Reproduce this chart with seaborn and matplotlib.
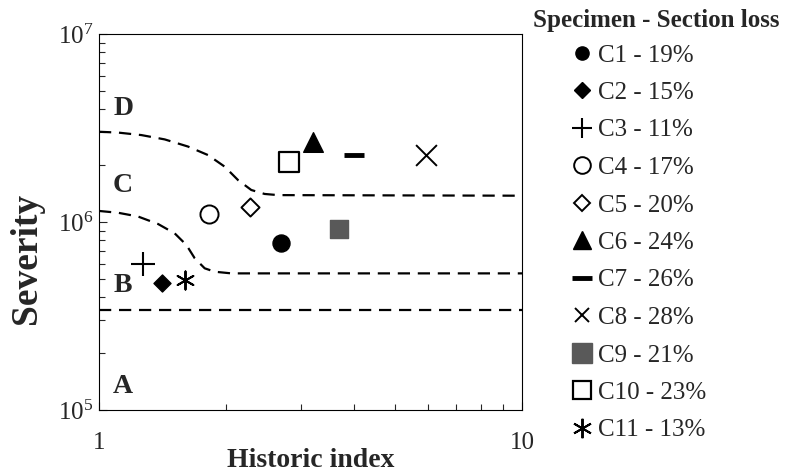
import matplotlib
matplotlib.use("Agg")
import matplotlib.pyplot as plt
from matplotlib.lines import Line2D
from matplotlib.ticker import NullFormatter, LogLocator
import seaborn as sns
import pandas as pd

# specimens
specimens = ["C1", "C2", "C3", "C4", "C5", "C6", "C7", "C8", "C9", "C10", "C11"]
section_loss = [19, 15, 11, 17, 20, 24, 26, 28, 21, 23, 13]
historic_index = [2.70, 1.41, 1.27, 1.82, 2.27, 3.20, 4.01, 5.92, 3.69, 2.81, 1.60]
severity = [7.7e5, 4.75e5, 6.0e5, 1.1e6, 1.2e6, 2.67e6, 2.28e6, 2.27e6, 9.2e5, 2.08e6, 4.9e5]

# zone boundaries (dashed)
upper_x = [1.0, 1.109, 1.259, 1.430, 1.623, 1.810, 1.982, 2.132, 2.291, 2.463, 2.65, 10]
upper_y = [3.02e6, 2.99e6, 2.90e6, 2.75e6, 2.52e6, 2.27e6, 1.97e6, 1.67e6, 1.48e6, 1.41e6, 1.39e6, 1.38e6]
lower_x = [1.0, 1.109, 1.236, 1.379, 1.51, 1.609, 1.684, 1.778, 1.877, 2.055, 10]
lower_y = [1.145e6, 1.12e6, 1.07e6, 9.76e5, 8.7e5, 7.55e5, 6.41e5, 5.67e5, 5.44e5, 5.33e5, 5.33e5]
bottom_x = [1, 10]
bottom_y = [3.4e5, 3.4e5]

zones = ["A", "B", "C", "D"]
zone_x = [1.14, 1.14, 1.14, 1.14]
zone_y = [1.33e5, 4.6e5, 1.56e6, 4.0e6]

sns.set_style("ticks")
plt.rcParams["font.family"] = ["Liberation Serif", "DejaVu Serif"]
plt.rcParams["mathtext.fontset"] = "custom"
plt.rcParams["mathtext.rm"] = "Liberation Serif"

# marker, face, edge, size (s), linewidth, legend markersize
styles = {
    "C1": ("o", "black", "black", 150, 1.0, 9.5),
    "C2": ("D", "black", "black", 75, 1.0, 8.5),
    "C3": ("+", "black", "black", 275, 1.5, 14),
    "C4": ("o", "white", "black", 170, 1.4, 12),
    "C5": ("D", "white", "black", 85, 1.4, 8.5),
    "C6": ("^", "black", "black", 200, 1.0, 13),
    "C7": ("_", "black", "black", 207, 3.5, 14),
    "C8": ("x", "black", "black", 225, 1.4, 10.5),
    "C9": ("s", "#595959", "#595959", 150, 1.0, 14),
    "C10": ("s", "white", "black", 207, 1.6, 13),
    "C11": ((6, 2, 0), "black", "black", 170, 1.4, 14),
}

df = pd.DataFrame({"specimen": specimens, "hi": historic_index, "sev": severity,
                   "loss": section_loss})

fig = plt.figure(figsize=(7.86, 4.75), dpi=100)
ax = fig.add_axes([99 / 786, 1 - 410 / 475, 423 / 786, 376 / 475])

dash = (5.5, 3.5)
for bx, by in [(upper_x, upper_y), (lower_x, lower_y), (bottom_x, bottom_y)]:
    sns.lineplot(x=bx, y=by, ax=ax, color="black", lw=1.6, sort=False,
                 dashes=False, estimator=None)
for ln in ax.lines:
    ln.set_dashes(dash)

handles = []
for _, row in df.iterrows():
    m, fc, ec, s, lw, ms = styles[row["specimen"]]
    unfilled = m in ("+", "x", "_") or isinstance(m, tuple)
    if unfilled:
        sns.scatterplot(x=[row["hi"]], y=[row["sev"]], ax=ax, marker=m, s=s,
                        color=ec, linewidth=lw, zorder=3)
    else:
        sns.scatterplot(x=[row["hi"]], y=[row["sev"]], ax=ax, marker=m, s=s,
                        color=fc, edgecolor=ec, linewidth=lw, zorder=3)
    handles.append(Line2D([], [], linestyle="none", marker=m, markersize=ms,
                          markerfacecolor=fc, markeredgecolor=ec,
                          markeredgewidth=lw,
                          label=f"{row['specimen']} - {row['loss']}%"))

for z, zx, zy in zip(zones, zone_x, zone_y):
    ax.text(zx, zy, z, fontsize=20, fontweight="bold", ha="center", va="center")

ax.set_xscale("log")
ax.set_yscale("log")
ax.set_xlim(1, 10)
ax.set_ylim(1e5, 1e7)
ax.set_xticks([1, 10], labels=["1", "10"])
ax.xaxis.set_minor_locator(LogLocator(base=10, subs=range(2, 10)))
ax.xaxis.set_minor_formatter(NullFormatter())
ax.yaxis.set_minor_formatter(NullFormatter())
ax.tick_params(which="both", direction="in", top=False, right=False,
               width=0.8, labelsize=18)
ax.tick_params(which="major", length=6)
ax.tick_params(which="minor", length=4.5)
ax.tick_params(axis="x", pad=16)
ax.tick_params(axis="y", pad=4)
for sp in ax.spines.values():
    sp.set_linewidth(0.8)
    sp.set_color("black")

ax.set_xlabel("Historic index", fontsize=20, fontweight="bold")
ax.xaxis.set_label_coords(0.5, -0.1)
ax.set_ylabel("Severity", fontsize=27, fontweight="bold")
ax.yaxis.set_label_coords(-0.13, 0.404)

fig.text(533 / 786, 1 - 21 / 475, "Specimen - Section loss", fontsize=18,
         fontweight="bold", ha="left", va="center")
fig.legend(handles=handles, loc="upper left",
           bbox_to_anchor=(572 / 786, 1 - 44 / 475), frameon=False,
           fontsize=18, handlelength=0.8, handletextpad=0.25,
           labelspacing=0.6, borderpad=0, borderaxespad=0)

fig.savefig("out.png", dpi=100)
